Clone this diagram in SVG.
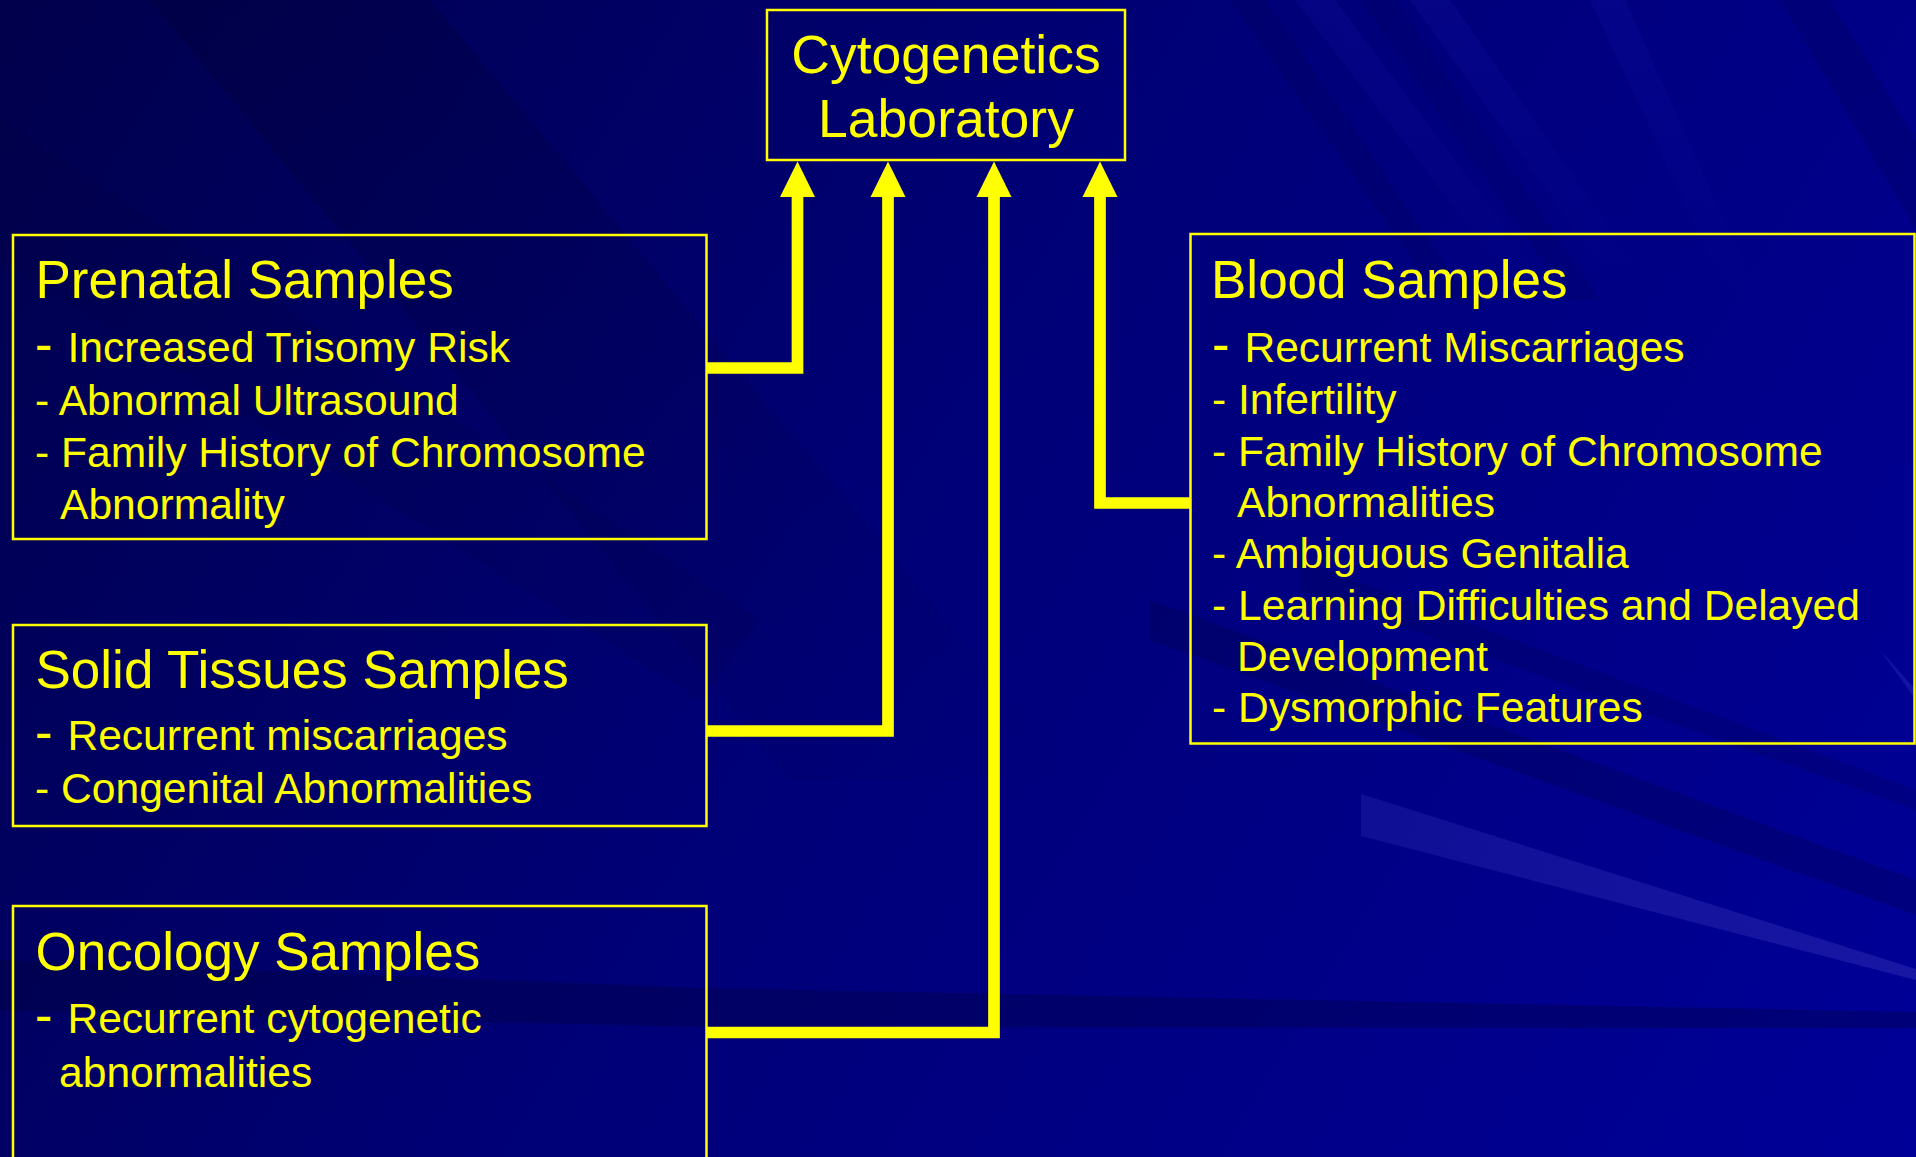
<svg xmlns="http://www.w3.org/2000/svg" width="1916" height="1157" viewBox="0 0 1916 1157">
  <defs>
    <linearGradient id="bg" gradientUnits="userSpaceOnUse" x1="0" y1="0" x2="1916" y2="1157">
      <stop offset="0" stop-color="#00004c"/>
      <stop offset="0.45" stop-color="#000076"/>
      <stop offset="1" stop-color="#000098"/>
    </linearGradient>
    <linearGradient id="fadeDown" x1="0" y1="0" x2="0" y2="1">
      <stop offset="0" stop-color="#1a1ab4" stop-opacity="0.18"/>
      <stop offset="1" stop-color="#1a1ab4" stop-opacity="0"/>
    </linearGradient>
    <linearGradient id="darkFade" x1="0" y1="0" x2="1" y2="1">
      <stop offset="0" stop-color="#000030" stop-opacity="0.3"/>
      <stop offset="1" stop-color="#000030" stop-opacity="0"/>
    </linearGradient>
    <linearGradient id="lightBand" x1="0" y1="0" x2="1" y2="0">
      <stop offset="0" stop-color="#2a2ab0" stop-opacity="0.35"/>
      <stop offset="1" stop-color="#2a2ab0" stop-opacity="0.55"/>
    </linearGradient>
    <style>
      .box { fill: none; stroke: #ffff00; stroke-width: 2.5; }
      .conn { fill: none; stroke: #ffff00; stroke-width: 11.7; stroke-linejoin: miter; stroke-linecap: butt; }
      .head { fill: #ffff00; }
      text { font-family: "Liberation Sans", Arial, sans-serif; fill: #ffff00; }
      .title { font-size: 53.5px; }
      .hd { font-size: 53px; }
      .it { font-size: 42.6px; }
      .big { font-size: 53px; }
    </style>
  </defs>

  <!-- background -->
  <rect x="0" y="0" width="1916" height="1157" fill="url(#bg)"/>
  <g id="background-streaks">
    <polygon points="150,0 430,0 1080,780 790,780" fill="url(#darkFade)"/>
    <polygon points="0,120 0,260 700,700 760,620" fill="#000030" opacity="0.1"/>
    <polygon points="1295,0 1335,0 1560,300 1525,300" fill="url(#fadeDown)"/>
    <polygon points="1410,0 1450,0 1660,300 1625,300" fill="url(#fadeDown)"/>
    <polygon points="1590,0 1625,0 1760,300 1730,300" fill="url(#fadeDown)"/>
    <polygon points="1230,0 1265,0 1470,300 1440,300" fill="#000030" opacity="0.12"/>
    <polygon points="1360,0 1395,0 1600,300 1570,300" fill="#000030" opacity="0.1"/>
    <polygon points="1780,0 1830,0 1916,140 1916,230" fill="#000030" opacity="0.15"/>
    <polygon points="1361,794 1916,969 1916,980 1361,836" fill="url(#lightBand)"/>
    <polygon points="1150,600 1916,880 1916,915 1150,640" fill="#000030" opacity="0.22"/>
    <polygon points="1300,560 1916,790 1916,810 1300,590" fill="#000030" opacity="0.15"/>
    <polygon points="0,960 700,988 1916,1012 1916,1028 700,1027 0,1010" fill="#000030" opacity="0.28"/>
    <polygon points="1880,650 1916,690 1916,700" fill="#3a3ad0" opacity="0.3"/>
  </g>

  <!-- connectors -->
  <g id="connectors">
    <path class="conn" d="M707,368 H797.5 V196"/>
    <polygon class="head" points="797.5,161.5 815,197 780,197"/>
    <path class="conn" d="M707,731 H888 V196"/>
    <polygon class="head" points="888,161.5 905.5,197 870.5,197"/>
    <path class="conn" d="M707,1032.5 H994 V196"/>
    <polygon class="head" points="994,161.5 1011.5,197 976.5,197"/>
    <path class="conn" d="M1190,503 H1100 V196"/>
    <polygon class="head" points="1100,161.5 1117.5,197 1082.5,197"/>
  </g>

  <g id="node-lab">
    <rect class="box" x="767" y="10" width="358" height="150"/>
    <text class="title" x="946" y="73" text-anchor="middle">Cytogenetics</text>
    <text class="title" x="946" y="137" text-anchor="middle">Laboratory</text>
  </g>

  <g id="node-prenatal">
    <rect class="box" x="13" y="235" width="693.5" height="304"/>
    <text class="hd" x="35.5" y="298">Prenatal Samples</text>
    <text class="it" x="35" y="362"><tspan class="big">- </tspan>Increased Trisomy Risk</text>
    <text class="it" x="35" y="415">- Abnormal Ultrasound</text>
    <text class="it" x="35" y="467">- Family History of Chromosome</text>
    <text class="it" x="60" y="519">Abnormality</text>
  </g>

  <g id="node-solid">
    <rect class="box" x="13" y="625" width="693.5" height="201"/>
    <text class="hd" x="35.5" y="688">Solid Tissues Samples</text>
    <text class="it" x="35" y="750"><tspan class="big">- </tspan>Recurrent miscarriages</text>
    <text class="it" x="35" y="803">- Congenital Abnormalities</text>
  </g>

  <g id="node-oncology">
    <rect class="box" x="13" y="906" width="693.5" height="300"/>
    <text class="hd" x="35.5" y="970">Oncology Samples</text>
    <text class="it" x="35" y="1033"><tspan class="big">- </tspan>Recurrent cytogenetic</text>
    <text class="it" x="59" y="1087">abnormalities</text>
  </g>

  <g id="node-blood">
    <rect class="box" x="1190.5" y="234" width="724" height="509.5"/>
    <text class="hd" x="1211" y="298">Blood Samples</text>
    <text class="it" x="1212" y="362"><tspan class="big">- </tspan>Recurrent Miscarriages</text>
    <text class="it" x="1212" y="414">- Infertility</text>
    <text class="it" x="1212" y="466">- Family History of Chromosome</text>
    <text class="it" x="1237" y="517">Abnormalities</text>
    <text class="it" x="1212" y="568">- Ambiguous Genitalia</text>
    <text class="it" x="1212" y="620">- Learning Difficulties and Delayed</text>
    <text class="it" x="1237" y="671">Development</text>
    <text class="it" x="1212" y="722">- Dysmorphic Features</text>
  </g>
</svg>
